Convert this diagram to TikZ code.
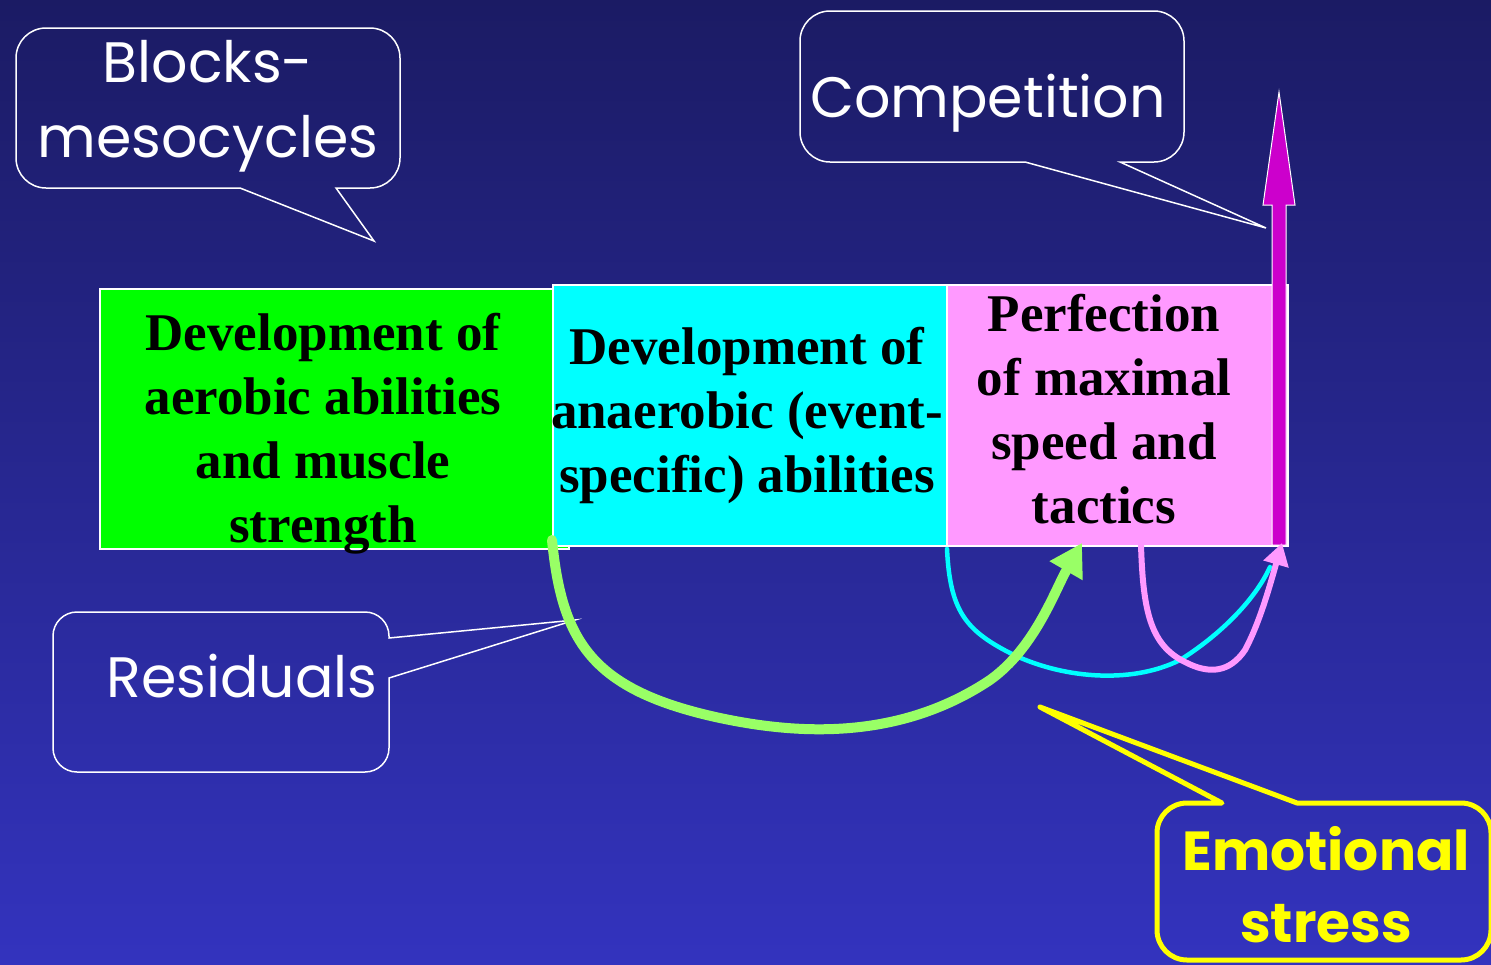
\documentclass[tikz,border=0pt]{standalone}
\usepackage{fontspec}
\setmainfont{Liberation Serif}
\newfontfamily\comicfont{Poppins}
\usetikzlibrary{arrows.meta}
\definecolor{bgtop}{RGB}{27,27,100}
\definecolor{bgbot}{RGB}{51,51,190}
\definecolor{boxgreen}{RGB}{0,255,0}
\definecolor{boxcyan}{RGB}{0,255,255}
\definecolor{boxpink}{RGB}{255,153,255}
\definecolor{arrmag}{RGB}{204,0,204}
\definecolor{arrgreen}{RGB}{153,255,102}
\definecolor{emoyellow}{RGB}{255,255,0}
\tikzset{
  mainbox/.style={draw=white, line width=1.5pt, inner sep=0pt, anchor=north west},
  maintext/.style={font=\fontsize{53}{64}\selectfont\bfseries, text=black, align=center, inner sep=0pt, anchor=base},
  callout/.style={draw=white, line width=1.5pt, line join=miter},
  callouttext/.style={font=\comicfont\fontsize{57}{75}\selectfont, text=white, align=center, inner sep=0pt, anchor=base},
  emocallout/.style={draw=emoyellow, line width=5pt, line join=round},
  emotext/.style={font=\comicfont\bfseries\fontsize{55}{72}\selectfont, text=emoyellow, align=center, inner sep=0pt, anchor=base},
  curvearrow/.style={line cap=round, line join=round},
}
\begin{document}
\begin{tikzpicture}[x=1pt,y=-1pt]
\shade[top color=bgtop,bottom color=bgbot] (0,0) rectangle (1491,964);
\useasboundingbox (0,0) rectangle (1491,964);
% phase boxes
\node[mainbox, fill=boxgreen, minimum width=469pt, minimum height=260pt] (green) at (99,288) {};
\node[mainbox, fill=boxcyan, minimum width=394pt, minimum height=261pt] (cyan) at (552,284) {};
\node[mainbox, fill=boxpink, minimum width=341pt, minimum height=261pt] (pink) at (946,284) {};
\node[maintext] (greentxt) at (323,542) {Development of\\aerobic abilities\\and muscle\\strength};
\node[maintext] (cyantxt) at (747,492) {Development of\\anaerobic (event-\\specific) abilities};
\node[maintext] (pinktxt) at (1104,523) {Perfection\\of maximal\\speed and\\tactics};
% competition arrow
\coordinate (magtip) at (1279,92);
\draw[draw=white, line width=1pt, fill=arrmag] (1272,545) -- (1272,205) -- (1263,205) -- (magtip) -- (1295,205) -- (1286,205) -- (1286,545) -- cycle;
% callouts
\draw[callout] (374,241) -- (240,188) [rounded corners=30pt] -- (16,188) -- (16,28) -- (400,28) -- (400,188) [sharp corners] -- (336,188) -- cycle;
\node[callouttext] (blockstxt) at (208,157) {Blocks-\\mesocycles};
\draw[callout] (1266,228) -- (1120,162) [rounded corners=30pt] -- (1184,162) -- (1184,11) -- (800,11) -- (800,162) [sharp corners] -- (1025,162) -- cycle;
\node[callouttext] (comptxt) at (988,117) {Competition};
\draw[callout] (575,620) -- (389,638) [rounded corners=24pt] -- (389,612) -- (53,612) -- (53,772) -- (389,772) [sharp corners] -- (389,678) -- cycle;
\node[callouttext] (residtxt) at (242,697) {Residuals};
\draw[emocallout] (1040,707) -- (1297,803) [rounded corners=30pt] -- (1491,803) -- (1491,960) -- (1157,960) -- (1157,803) [sharp corners] -- (1222,803) -- cycle;
\node[emotext] (emotxt) at (1326,942) {Emotional\\stress};
% residual curves
\coordinate (gstart) at (552,540);
\coordinate (gend) at (1082,543);
\coordinate (cstart) at (947,549);
\coordinate (cend) at (1270,567);
\coordinate (pstart) at (1141,545);
\coordinate (pend) at (1282,543);
\draw[curvearrow, draw=boxcyan, line width=4.5pt] (cstart) .. controls (950,610) and (965,630) .. (1010,653) .. controls (1060,678) and (1130,685) .. (1180,660) .. controls (1220,635) and (1255,600) .. (cend);
\draw[curvearrow, draw=boxpink, line width=6pt, -{Triangle[length=22pt,width=25pt]}] (pstart) .. controls (1143,610) and (1150,645) .. (1185,662) .. controls (1210,675) and (1230,672) .. (1245,650) .. controls (1260,622) and (1270,585) .. (pend);
\draw[curvearrow, draw=arrgreen, line width=10pt, -{Triangle[length=32pt,width=36pt]}] (gstart) .. controls (562,640) and (590,690) .. (720,718) .. controls (800,735) and (900,740) .. (990,680) .. controls (1035,648) and (1055,590) .. (gend);
\end{tikzpicture}
\end{document}
